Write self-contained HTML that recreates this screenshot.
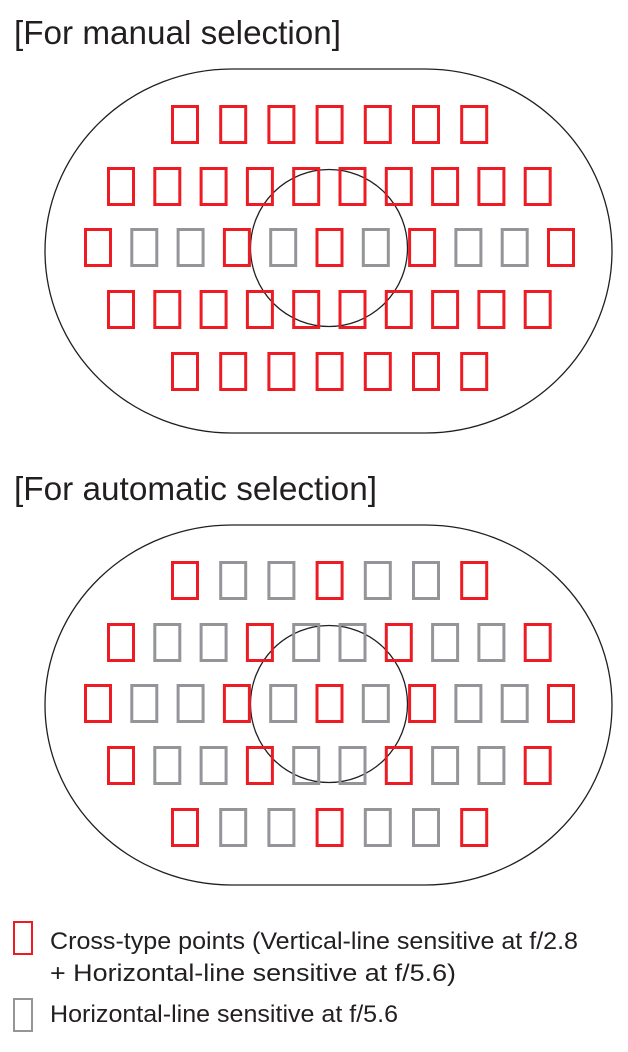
<!DOCTYPE html>
<html><head><meta charset="utf-8"><style>
html,body{margin:0;padding:0;background:#fff;}
body{width:628px;height:1047px;overflow:hidden;}
.r{fill:none;stroke:#ed1c24;stroke-width:3}
.g{fill:none;stroke:#939598;stroke-width:3}
</style></head><body>
<svg width="628" height="1047" viewBox="0 0 628 1047" xmlns="http://www.w3.org/2000/svg" font-family="Liberation Sans, sans-serif">
<text x="14" y="44" font-size="33" fill="#231f20" textLength="327" lengthAdjust="spacingAndGlyphs">[For manual selection]</text>
<text x="14" y="500" font-size="33" fill="#231f20" textLength="363" lengthAdjust="spacingAndGlyphs">[For automatic selection]</text>
<g fill="none" stroke="#231f20" stroke-width="1.3">
<path d="M232 69 L425 69 A187 182 0 0 1 425 433 L232 433 A187 182 0 0 1 232 69 Z"/>
<circle cx="329" cy="248" r="78.5"/>
<path d="M232 525 L425 525 A187 180 0 0 1 425 885 L232 885 A187 180 0 0 1 232 525 Z"/>
<circle cx="329" cy="704" r="78.5"/>
</g>
<g transform="translate(0,106.5)">
<rect class="r" x="172.5" width="25" height="36"/><rect class="r" x="220.7" width="25" height="36"/><rect class="r" x="268.9" width="25" height="36"/><rect class="r" x="317.1" width="25" height="36"/><rect class="r" x="365.3" width="25" height="36"/><rect class="r" x="413.5" width="25" height="36"/><rect class="r" x="461.7" width="25" height="36"/>
</g>
<g transform="translate(0,168.5)">
<rect class="r" x="108.5" width="25" height="36"/><rect class="r" x="154.8" width="25" height="36"/><rect class="r" x="201.1" width="25" height="36"/><rect class="r" x="247.4" width="25" height="36"/><rect class="r" x="293.7" width="25" height="36"/><rect class="r" x="340" width="25" height="36"/><rect class="r" x="386.3" width="25" height="36"/><rect class="r" x="432.6" width="25" height="36"/><rect class="r" x="478.9" width="25" height="36"/><rect class="r" x="525.2" width="25" height="36"/>
</g>
<g transform="translate(0,229.5)">
<rect class="r" x="85.5" width="25" height="36"/><rect class="g" x="131.8" width="25" height="36"/><rect class="g" x="178.1" width="25" height="36"/><rect class="r" x="224.4" width="25" height="36"/><rect class="g" x="270.7" width="25" height="36"/><rect class="r" x="317" width="25" height="36"/><rect class="g" x="363.3" width="25" height="36"/><rect class="r" x="409.6" width="25" height="36"/><rect class="g" x="455.9" width="25" height="36"/><rect class="g" x="502.2" width="25" height="36"/><rect class="r" x="548.5" width="25" height="36"/>
</g>
<g transform="translate(0,291.5)">
<rect class="r" x="108.5" width="25" height="36"/><rect class="r" x="154.8" width="25" height="36"/><rect class="r" x="201.1" width="25" height="36"/><rect class="r" x="247.4" width="25" height="36"/><rect class="r" x="293.7" width="25" height="36"/><rect class="r" x="340" width="25" height="36"/><rect class="r" x="386.3" width="25" height="36"/><rect class="r" x="432.6" width="25" height="36"/><rect class="r" x="478.9" width="25" height="36"/><rect class="r" x="525.2" width="25" height="36"/>
</g>
<g transform="translate(0,353.5)">
<rect class="r" x="172.5" width="25" height="36"/><rect class="r" x="220.7" width="25" height="36"/><rect class="r" x="268.9" width="25" height="36"/><rect class="r" x="317.1" width="25" height="36"/><rect class="r" x="365.3" width="25" height="36"/><rect class="r" x="413.5" width="25" height="36"/><rect class="r" x="461.7" width="25" height="36"/>
</g>
<g transform="translate(0,562.5)">
<rect class="r" x="172.5" width="25" height="36"/><rect class="g" x="220.7" width="25" height="36"/><rect class="g" x="268.9" width="25" height="36"/><rect class="r" x="317.1" width="25" height="36"/><rect class="g" x="365.3" width="25" height="36"/><rect class="g" x="413.5" width="25" height="36"/><rect class="r" x="461.7" width="25" height="36"/>
</g>
<g transform="translate(0,624.5)">
<rect class="r" x="108.5" width="25" height="36"/><rect class="g" x="154.8" width="25" height="36"/><rect class="g" x="201.1" width="25" height="36"/><rect class="r" x="247.4" width="25" height="36"/><rect class="g" x="293.7" width="25" height="36"/><rect class="g" x="340" width="25" height="36"/><rect class="r" x="386.3" width="25" height="36"/><rect class="g" x="432.6" width="25" height="36"/><rect class="g" x="478.9" width="25" height="36"/><rect class="r" x="525.2" width="25" height="36"/>
</g>
<g transform="translate(0,685.5)">
<rect class="r" x="85.5" width="25" height="36"/><rect class="g" x="131.8" width="25" height="36"/><rect class="g" x="178.1" width="25" height="36"/><rect class="r" x="224.4" width="25" height="36"/><rect class="g" x="270.7" width="25" height="36"/><rect class="r" x="317" width="25" height="36"/><rect class="g" x="363.3" width="25" height="36"/><rect class="r" x="409.6" width="25" height="36"/><rect class="g" x="455.9" width="25" height="36"/><rect class="g" x="502.2" width="25" height="36"/><rect class="r" x="548.5" width="25" height="36"/>
</g>
<g transform="translate(0,747.5)">
<rect class="r" x="108.5" width="25" height="36"/><rect class="g" x="154.8" width="25" height="36"/><rect class="g" x="201.1" width="25" height="36"/><rect class="r" x="247.4" width="25" height="36"/><rect class="g" x="293.7" width="25" height="36"/><rect class="g" x="340" width="25" height="36"/><rect class="r" x="386.3" width="25" height="36"/><rect class="g" x="432.6" width="25" height="36"/><rect class="g" x="478.9" width="25" height="36"/><rect class="r" x="525.2" width="25" height="36"/>
</g>
<g transform="translate(0,809.5)">
<rect class="r" x="172.5" width="25" height="36"/><rect class="g" x="220.7" width="25" height="36"/><rect class="g" x="268.9" width="25" height="36"/><rect class="r" x="317.1" width="25" height="36"/><rect class="g" x="365.3" width="25" height="36"/><rect class="g" x="413.5" width="25" height="36"/><rect class="r" x="461.7" width="25" height="36"/>
</g>
<g font-size="24" fill="#231f20">
<text x="50" y="949" textLength="528" lengthAdjust="spacingAndGlyphs">Cross-type points (Vertical-line sensitive at f/2.8</text>
<text x="50" y="981" textLength="406" lengthAdjust="spacingAndGlyphs">+ Horizontal-line sensitive at f/5.6)</text>
<text x="50" y="1022" textLength="348" lengthAdjust="spacingAndGlyphs">Horizontal-line sensitive at f/5.6</text>
</g>
<rect x="14" y="922" width="18" height="32" fill="none" stroke="#ed1c24" stroke-width="2"/>
<rect x="14" y="999" width="18" height="32" fill="none" stroke="#939598" stroke-width="2"/>
</svg>
</body></html>
